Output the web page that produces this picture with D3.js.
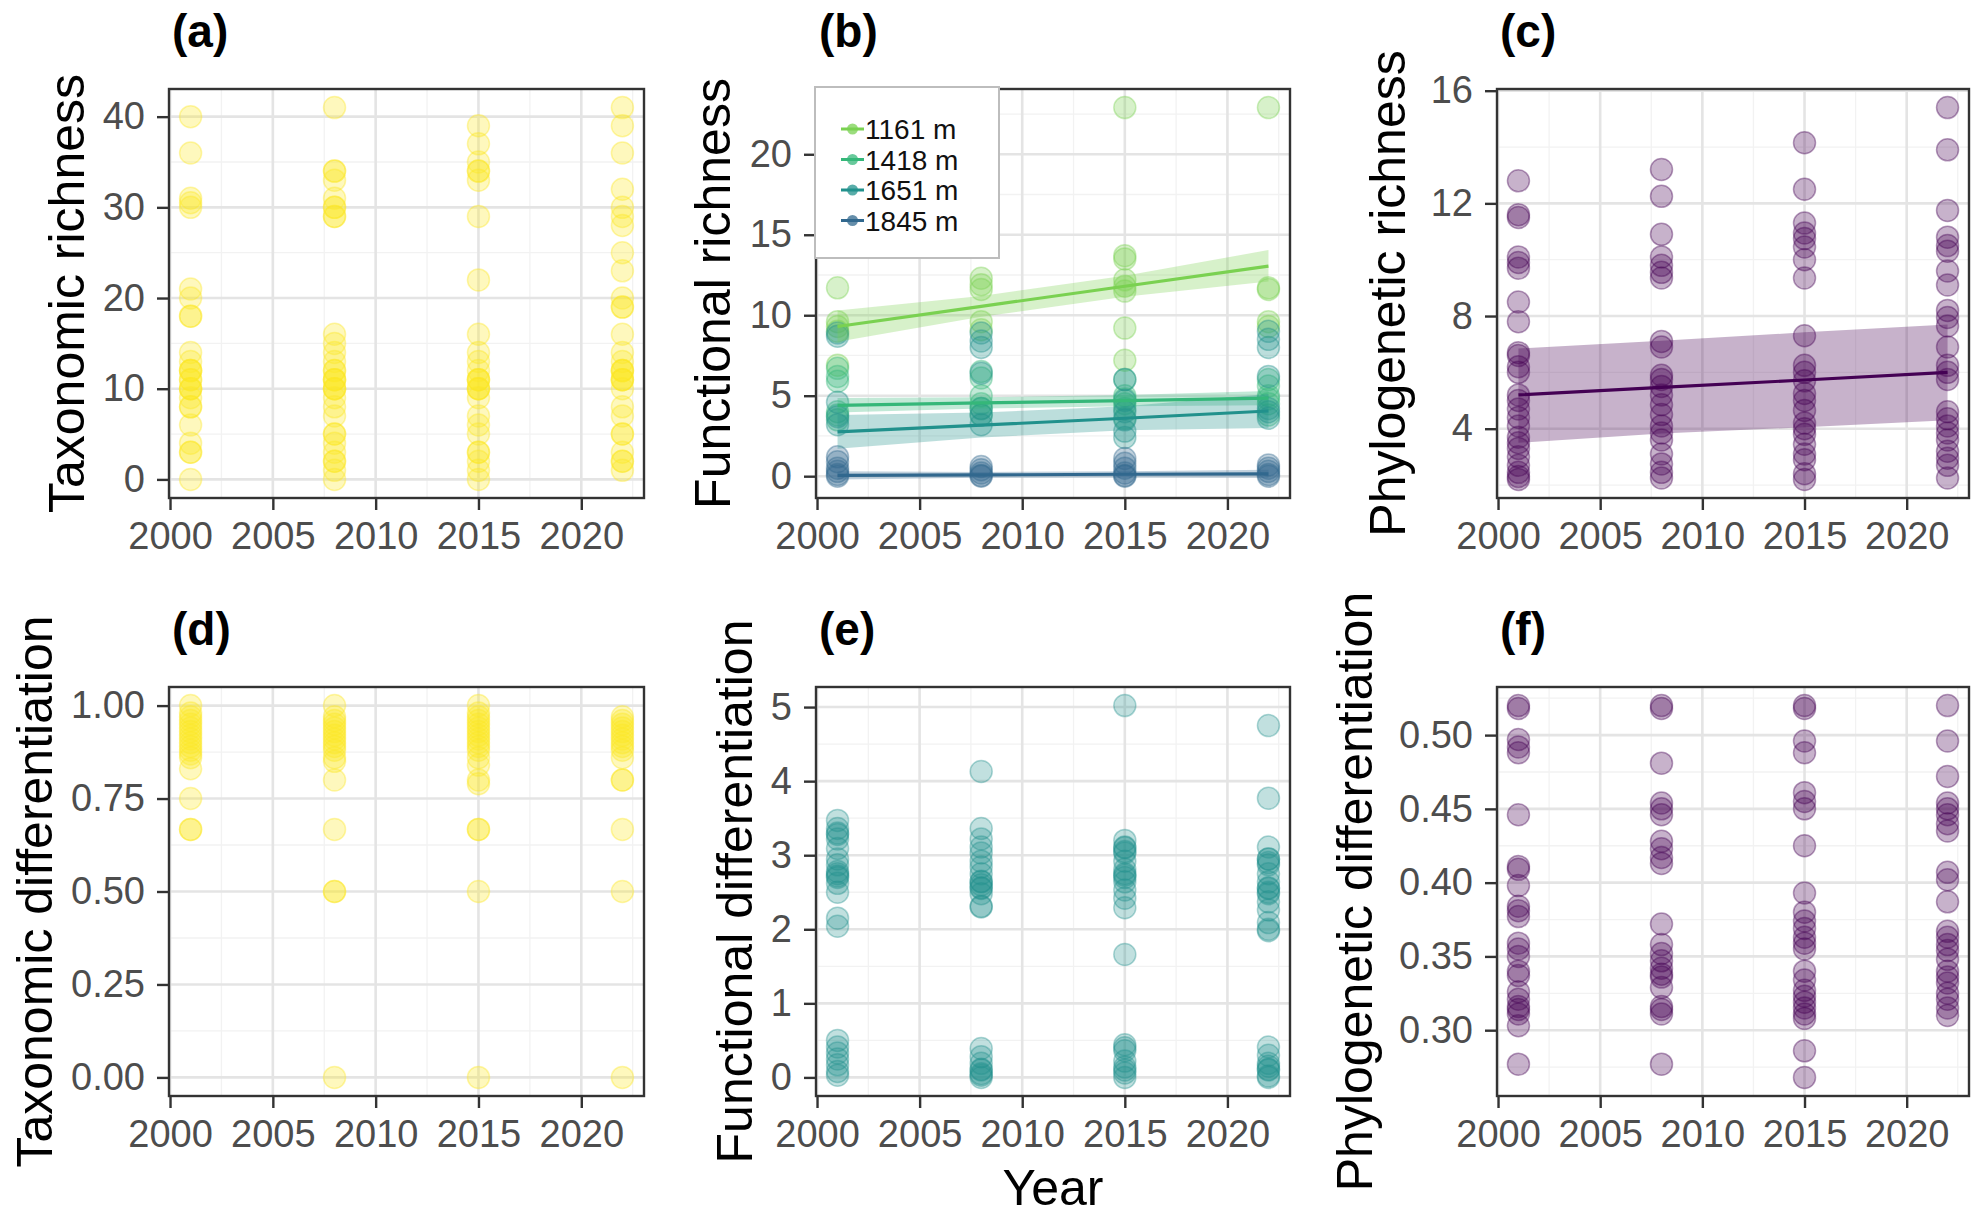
<!DOCTYPE html>
<html>
<head>
<meta charset="utf-8">
<script src="https://cdn.jsdelivr.net/npm/d3@7"></script>
<style>
  body { margin: 0; background: #fff; }
  text { font-family: "Liberation Sans", Arial, sans-serif; }
</style>
</head>
<body>
<svg id="chart" width="1984" height="1218"></svg>
<script>
// survey years (x of every column of points)
const years = [2001, 2008, 2015, 2022]
const xTicks = [2000, 2005, 2010, 2015, 2020]

// (a) taxonomic richness, one array per year
const taxRichness = [
    [40, 36, 31, 30.5, 30, 21, 20, 18, 18, 14, 13, 12, 12, 12, 11, 11, 10, 10, 10, 9, 8, 8, 6, 4, 3, 3, 0],
    [41, 34, 34, 33, 31, 30, 30, 29, 29, 16, 15, 14, 13, 12, 12, 11, 11, 11, 10, 10, 10, 9, 8, 7, 5, 5, 4, 3, 2, 2, 1, 0],
    [39, 37, 35, 34, 34, 33, 29, 22, 16, 14, 13, 12, 11, 11, 11, 10, 10, 10, 9, 7, 6, 5, 3, 3, 2, 1, 0],
    [41, 39, 36, 32, 30, 29, 28, 25, 23, 20, 19, 19, 16, 14, 13, 12, 12, 12, 11, 11, 11, 10, 8, 7, 5, 5, 3, 2, 2, 1]
]

// (b) functional richness by elevation
const elevations = ['1161 m', '1418 m', '1651 m', '1845 m']
const elevColors = ['#7AD151', '#35B779', '#21918C', '#31688E']
const funRich1161 = [[11.7, 9.6, 9.3, 9.0, 6.9], [12.3, 11.9, 11.6, 9.6, 9.1], [22.9, 13.7, 13.5, 12.2, 11.8, 11.5, 9.2, 7.2], [22.9, 11.7, 11.6, 9.6, 9.3]]
const funRich1418 = [[6.7, 6.2, 5.9, 4.0, 3.8, 3.5], [6.5, 6.1, 5.0, 4.5, 4.2, 3.8], [6.0, 5.0, 4.8, 4.5, 4.2, 3.6], [6.0, 5.6, 5.0, 4.8, 4.5, 3.8]]
const funRich1651 = [[8.9, 8.7, 4.6, 3.7, 3.2], [8.9, 8.4, 8.0, 6.4, 4.2, 3.8, 3.2], [6.0, 4.7, 4.0, 3.5, 2.8, 2.4], [9.0, 8.5, 8.0, 6.2, 4.2, 4.0, 3.6]]
const funRich1845 = [[1.2, 0.9, 0.5, 0.3, 0.1, 0], [0.6, 0.4, 0.2, 0.05, 0], [1.1, 0.8, 0.5, 0.2, 0.05, 0], [0.7, 0.5, 0.3, 0.1, 0]]
// fitted trend + confidence band at the survey years
const fit1161 = [9.3, 10.55, 11.8, 13.05], lo1161 = [8.35, 9.9, 11.15, 12.1], hi1161 = [10.3, 11.2, 12.45, 14.05]
const fit1418 = [4.4, 4.55, 4.7, 4.85], lo1418 = [3.95, 4.2, 4.35, 4.4], hi1418 = [4.85, 4.9, 5.05, 5.3]
const fit1651 = [2.75, 3.17, 3.6, 4.05], lo1651 = [1.7, 2.4, 2.85, 3.0], hi1651 = [3.8, 3.95, 4.35, 5.1]
const fit1845 = [0.05, 0.08, 0.12, 0.15], lo1845 = [-0.2, -0.1, -0.08, -0.1], hi1845 = [0.3, 0.26, 0.3, 0.4]

// (c) phylogenetic richness
const phyRichness = [
    [12.8, 11.6, 11.5, 10.1, 9.9, 9.7, 8.5, 7.8, 6.7, 6.6, 6.2, 6.0, 5.2, 5.0, 4.7, 4.4, 4.1, 3.7, 3.5, 3.3, 3.0, 2.7, 2.45, 2.3, 2.2],
    [13.2, 12.25, 10.9, 10.1, 9.8, 9.55, 9.35, 7.1, 6.9, 5.9, 5.75, 5.5, 5.2, 4.85, 4.5, 4.1, 3.85, 3.6, 3.1, 2.75, 2.45, 2.25],
    [14.15, 12.5, 11.3, 10.95, 10.75, 10.45, 10.0, 9.35, 7.3, 6.25, 6.0, 5.7, 5.25, 5.0, 4.65, 4.2, 4.0, 3.8, 3.45, 3.1, 2.9, 2.4, 2.2],
    [15.4, 13.9, 11.75, 10.8, 10.5, 10.3, 9.6, 9.1, 8.2, 7.95, 7.65, 6.9, 6.25, 6.0, 5.75, 4.6, 4.35, 4.1, 3.85, 3.6, 3.2, 2.95, 2.7, 2.25]
]
const phyFit = [5.2, 5.47, 5.73, 6.0], phyLo = [3.5, 3.83, 4.05, 4.3], phyHi = [6.85, 7.12, 7.42, 7.7]

// (d) taxonomic differentiation
const taxDiff = [
    [1.0, 0.98, 0.97, 0.96, 0.95, 0.94, 0.93, 0.92, 0.91, 0.9, 0.89, 0.88, 0.87, 0.86, 0.83, 0.75, 0.667, 0.667],
    [1.0, 0.97, 0.96, 0.95, 0.94, 0.93, 0.92, 0.91, 0.9, 0.89, 0.88, 0.86, 0.85, 0.8, 0.667, 0.5, 0.5, 0.0],
    [1.0, 0.98, 0.97, 0.96, 0.95, 0.94, 0.93, 0.92, 0.91, 0.9, 0.89, 0.88, 0.86, 0.84, 0.8, 0.79, 0.667, 0.667, 0.5, 0.0],
    [0.97, 0.96, 0.95, 0.94, 0.93, 0.92, 0.91, 0.9, 0.89, 0.88, 0.86, 0.8, 0.8, 0.667, 0.5, 0.0]
]

// (e) functional differentiation
const funDiff = [
    [3.47, 3.36, 3.3, 3.28, 3.22, 3.09, 2.95, 2.87, 2.78, 2.75, 2.72, 2.7, 2.62, 2.5, 2.15, 2.04, 0.5, 0.41, 0.33, 0.25, 0.17, 0.08, 0.03],
    [4.13, 3.36, 3.22, 3.11, 3.03, 2.92, 2.84, 2.75, 2.65, 2.64, 2.6, 2.56, 2.55, 2.48, 2.31, 2.3, 0.39, 0.28, 0.19, 0.11, 0.1, 0.05, 0.03, 0],
    [5.02, 3.2, 3.11, 3.1, 3.05, 3.03, 2.92, 2.81, 2.75, 2.73, 2.7, 2.64, 2.53, 2.42, 2.29, 1.66, 0.44, 0.4, 0.36, 0.22, 0.14, 0.1, 0.06, 0],
    [4.75, 3.77, 3.11, 2.95, 2.95, 2.9, 2.87, 2.75, 2.64, 2.56, 2.55, 2.5, 2.48, 2.37, 2.26, 2.09, 2.0, 1.98, 0.41, 0.3, 0.19, 0.15, 0.11, 0.1, 0.02, 0]
]

// (f) phylogenetic differentiation
const phyDiff = [
    [0.52, 0.518, 0.497, 0.492, 0.488, 0.446, 0.411, 0.409, 0.398, 0.384, 0.381, 0.377, 0.359, 0.355, 0.35, 0.34, 0.337, 0.326, 0.321, 0.316, 0.314, 0.311, 0.303, 0.277],
    [0.52, 0.518, 0.481, 0.454, 0.45, 0.446, 0.428, 0.423, 0.417, 0.413, 0.372, 0.358, 0.352, 0.347, 0.342, 0.338, 0.336, 0.329, 0.316, 0.314, 0.311, 0.277],
    [0.52, 0.518, 0.496, 0.488, 0.461, 0.455, 0.45, 0.425, 0.393, 0.38, 0.374, 0.369, 0.363, 0.359, 0.355, 0.34, 0.334, 0.327, 0.323, 0.319, 0.315, 0.311, 0.308, 0.286, 0.268],
    [0.52, 0.496, 0.472, 0.454, 0.45, 0.446, 0.44, 0.435, 0.407, 0.402, 0.387, 0.367, 0.363, 0.358, 0.354, 0.348, 0.34, 0.336, 0.332, 0.325, 0.321, 0.315, 0.31]
]

const svg = d3.select('#chart')
const tickFont = 38
const titleFont = 50

const toPoints = (arr, color) => arr.flatMap((vals, i) => vals.map(v => ({ year: years[i], v, color })))
const toBand = (fit, lo, hi, color) => ({ color, rows: years.map((y, i) => ({ year: y, fit: fit[i], lo: lo[i], hi: hi[i] })) })

const expand = ext => {
    const pad = (ext[1] - ext[0]) * 0.05
    return [ext[0] - pad, ext[1] + pad]
}

const drawPanel = p => {
    const w = p.right - p.left
    const h = p.bottom - p.top
    const g = svg.append('g').attr('transform', `translate(${p.left},${p.top})`)

    const x = d3.scaleLinear().domain(expand(d3.extent(years))).range([0, w])
    const yExt = d3.extent(p.points.map(d => d.v).concat(p.bands.flatMap(b => b.rows.flatMap(r => [r.lo, r.hi]))))
    const y = d3.scaleLinear().domain(expand(yExt)).range([h, 0])

    // minor then major grid
    const xMinor = [2002.5, 2007.5, 2012.5, 2017.5, 2022.5]
    const step = p.yTicks[1] - p.yTicks[0]
    const yMinor = [p.yTicks[0] - step / 2].concat(p.yTicks.map(t => t + step / 2))
        .filter(v => v > y.domain()[0] && v < y.domain()[1])

    g.selectAll('.gminx').data(xMinor).enter().append('line')
        .attr('x1', d => x(d)).attr('x2', d => x(d)).attr('y1', 0).attr('y2', h)
        .attr('stroke', '#F2F2F2').attr('stroke-width', 1.3)
    g.selectAll('.gminy').data(yMinor).enter().append('line')
        .attr('y1', d => y(d)).attr('y2', d => y(d)).attr('x1', 0).attr('x2', w)
        .attr('stroke', '#F2F2F2').attr('stroke-width', 1.3)
    g.selectAll('.gmajx').data(xTicks).enter().append('line')
        .attr('x1', d => x(d)).attr('x2', d => x(d)).attr('y1', 0).attr('y2', h)
        .attr('stroke', '#E4E4E4').attr('stroke-width', 2.6)
    g.selectAll('.gmajy').data(p.yTicks).enter().append('line')
        .attr('y1', d => y(d)).attr('y2', d => y(d)).attr('x1', 0).attr('x2', w)
        .attr('stroke', '#E4E4E4').attr('stroke-width', 2.6)

    g.selectAll('circle').data(p.points).enter().append('circle')
        .attr('cx', d => x(d.year))
        .attr('cy', d => y(d.v))
        .attr('r', 11)
        .attr('fill', d => d.color)
        .attr('fill-opacity', p.alpha)
        .attr('stroke', d => d.color)
        .attr('stroke-opacity', p.alpha + 0.08)
        .attr('stroke-width', 1.5)

    p.bands.forEach(b => {
        g.append('path').datum(b.rows)
            .attr('d', d3.area().x(d => x(d.year)).y0(d => y(d.lo)).y1(d => y(d.hi)))
            .attr('fill', b.color).attr('fill-opacity', 0.3)
    })
    p.bands.forEach(b => {
        g.append('path').datum(b.rows)
            .attr('d', d3.line().x(d => x(d.year)).y(d => y(d.fit)))
            .attr('fill', 'none').attr('stroke', b.color).attr('stroke-width', 3.2)
    })

    g.append('rect').attr('width', w).attr('height', h)
        .attr('fill', 'none').attr('stroke', '#333333').attr('stroke-width', 2.4)

    const xAxis = g.append('g').attr('transform', `translate(0,${h})`)
        .call(d3.axisBottom(x).tickValues(xTicks).tickFormat(d3.format('d')).tickSize(12).tickPadding(12))
    const yAxis = g.append('g')
        .call(d3.axisLeft(y).tickValues(p.yTicks).tickFormat(p.fmt).tickSize(12).tickPadding(12))
    ;[xAxis, yAxis].forEach(a => {
        a.select('.domain').remove()
        a.selectAll('line').attr('stroke', '#333333').attr('stroke-width', 2.4)
        a.selectAll('text').attr('fill', '#4D4D4D').style('font-size', tickFont + 'px')
            .style('font-family', '"Liberation Sans", Arial, sans-serif')
    })

    svg.append('text')
        .attr('transform', `translate(${p.titleX},${p.top + h / 2}) rotate(-90)`)
        .attr('text-anchor', 'middle')
        .style('font-size', titleFont + 'px')
        .attr('fill', '#000')
        .text(p.title)

    svg.append('text')
        .attr('x', p.left + 3).attr('y', p.top - 42)
        .style('font-size', '46px').style('font-weight', 'bold')
        .attr('fill', '#000')
        .text(p.tag)
}

const top1 = 89, bot1 = 498, top2 = 687, bot2 = 1096
const colA = [169, 644], colB = [816, 1290], colC = [1497, 1969]
const yellow = '#FDE725', teal = '#21918C', purple = '#440154'

drawPanel({ tag: '(a)', title: 'Taxonomic richness', left: colA[0], right: colA[1], top: top1, bottom: bot1,
    titleX: 84, points: toPoints(taxRichness, yellow), bands: [], alpha: 0.3,
    yTicks: [0, 10, 20, 30, 40], fmt: d3.format('d') })

drawPanel({ tag: '(b)', title: 'Functional richness', left: colB[0], right: colB[1], top: top1, bottom: bot1,
    titleX: 730, alpha: 0.3,
    points: [funRich1161, funRich1418, funRich1651, funRich1845].flatMap((a, i) => toPoints(a, elevColors[i])),
    bands: [toBand(fit1161, lo1161, hi1161, elevColors[0]), toBand(fit1418, lo1418, hi1418, elevColors[1]),
            toBand(fit1651, lo1651, hi1651, elevColors[2]), toBand(fit1845, lo1845, hi1845, elevColors[3])],
    yTicks: [0, 5, 10, 15, 20], fmt: d3.format('d') })

drawPanel({ tag: '(c)', title: 'Phylogenetic richness', left: colC[0], right: colC[1], top: top1, bottom: bot1,
    titleX: 1405, points: toPoints(phyRichness, purple), alpha: 0.3,
    bands: [toBand(phyFit, phyLo, phyHi, purple)],
    yTicks: [4, 8, 12, 16], fmt: d3.format('d') })

drawPanel({ tag: '(d)', title: 'Taxonomic differentiation', left: colA[0], right: colA[1], top: top2, bottom: bot2,
    titleX: 52, points: toPoints(taxDiff, yellow), bands: [], alpha: 0.3,
    yTicks: [0, 0.25, 0.5, 0.75, 1], fmt: d3.format('.2f') })

drawPanel({ tag: '(e)', title: 'Functional differentiation', left: colB[0], right: colB[1], top: top2, bottom: bot2,
    titleX: 752, points: toPoints(funDiff, teal), bands: [], alpha: 0.28,
    yTicks: [0, 1, 2, 3, 4, 5], fmt: d3.format('d') })

drawPanel({ tag: '(f)', title: 'Phylogenetic differentiation', left: colC[0], right: colC[1], top: top2, bottom: bot2,
    titleX: 1372, points: toPoints(phyDiff, purple), bands: [], alpha: 0.3,
    yTicks: [0.30, 0.35, 0.40, 0.45, 0.50], fmt: d3.format('.2f') })

// x axis title
svg.append('text')
    .attr('x', (colB[0] + colB[1]) / 2).attr('y', 1205)
    .attr('text-anchor', 'middle')
    .style('font-size', titleFont + 'px')
    .text('Year')

// legend of panel (b)
const legend = svg.append('g').attr('transform', 'translate(815,87)')
legend.append('rect').attr('width', 184).attr('height', 171)
    .attr('fill', '#fff').attr('stroke', '#BDBDBD').attr('stroke-width', 2)
const items = legend.selectAll('.item').data(elevations).enter().append('g')
    .attr('transform', (_, i) => `translate(0,${42 + i * 30.5})`)
items.append('line').attr('x1', 26).attr('x2', 49).attr('y1', 0).attr('y2', 0)
    .attr('stroke', (_, i) => elevColors[i]).attr('stroke-width', 3)
items.append('circle').attr('cx', 37.5).attr('cy', 0).attr('r', 5.5)
    .attr('fill', (_, i) => elevColors[i]).attr('fill-opacity', 0.75)
items.append('text').attr('x', 50).attr('y', 0).attr('dy', '0.36em')
    .style('font-size', '28px').attr('fill', '#111')
    .text(d => d)
</script>
</body>
</html>
